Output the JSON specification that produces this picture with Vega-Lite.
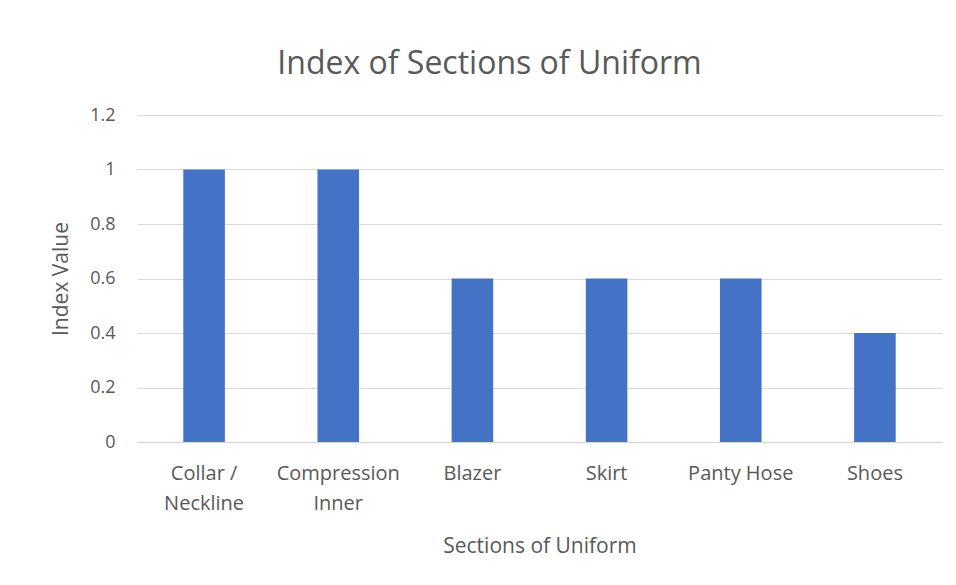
{
  "$schema": "https://vega.github.io/schema/vega-lite/v6.json",
  "autosize": {"type": "none"},
  "width": 805,
  "height": 327,
  "padding": {"left": 137, "top": 115, "right": 14, "bottom": 143},
  "background": "white",
  "title": {
    "text": "Index of Sections of Uniform",
    "font": "Open Sans",
    "fontSize": 32,
    "fontWeight": "normal",
    "color": "#595959",
    "anchor": "middle",
    "dx": -50,
    "offset": 25
  },
  "data": {
    "values": [
      {"section": "Collar / Neckline", "value": 1},
      {"section": "Compression Inner", "value": 1},
      {"section": "Blazer", "value": 0.6},
      {"section": "Skirt", "value": 0.6},
      {"section": "Panty Hose", "value": 0.6},
      {"section": "Shoes", "value": 0.4}
    ]
  },
  "mark": {"type": "bar", "color": "#4472C4"},
  "encoding": {
    "x": {
      "field": "section",
      "type": "nominal",
      "sort": null,
      "scale": {"paddingInner": 0.69, "paddingOuter": 0.345},
      "axis": {
        "title": "Sections of Uniform",
        "titleFont": "Open Sans",
        "titleFontSize": 21,
        "titleFontWeight": "normal",
        "titleColor": "#595959",
        "titlePadding": 22,
        "labelFont": "Open Sans",
        "labelFontSize": 20,
        "labelColor": "#595959",
        "labelAngle": 0,
        "labelPadding": 31,
        "labelLineHeight": 30,
        "labelBaseline": "middle",
        "labelExpr": "datum.label == 'Collar / Neckline' ? ['Collar /', 'Neckline'] : datum.label == 'Compression Inner' ? ['Compression', 'Inner'] : datum.label",
        "ticks": false,
        "domainColor": "#d9d9d9",
        "domainWidth": 1.5
      }
    },
    "y": {
      "field": "value",
      "type": "quantitative",
      "scale": {"domain": [0, 1.2]},
      "axis": {
        "title": "Index Value",
        "titleFont": "Open Sans",
        "titleFontSize": 21,
        "titleFontWeight": "normal",
        "titleColor": "#595959",
        "titlePadding": 18,
        "labelFont": "Open Sans",
        "labelFontSize": 18,
        "labelColor": "#595959",
        "labelPadding": 22,
        "labelOverlap": false,
        "format": ".1~f",
        "values": [0, 0.2, 0.4, 0.6, 0.8, 1, 1.2],
        "ticks": false,
        "domain": false,
        "gridColor": "#d9d9d9",
        "gridWidth": 1.2
      }
    }
  },
  "config": {"view": {"stroke": null}}
}
